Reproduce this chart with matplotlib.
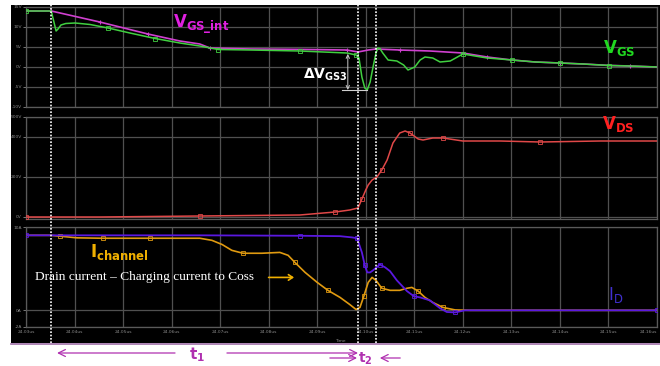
import numpy as np
import matplotlib
matplotlib.use('Agg')
import matplotlib.pyplot as plt
from matplotlib.patches import Rectangle, FancyArrowPatch
from matplotlib.lines import Line2D
import matplotlib.transforms as mtransforms

# ---------------- data (time in us) ----------------
t_vgs_int = [24.0300, 24.0352, 24.0452, 24.0551, 24.0617, 24.0658, 24.0679, 24.0761, 24.0864,
             24.0961, 24.0984, 24.1005, 24.1021, 24.1070, 24.1132, 24.1200, 24.1250, 24.1301,
             24.1349, 24.1400, 24.1448, 24.1501, 24.1544, 24.1600]
v_gs_int = [14.0, 14.0, 11.25, 8.25, 6.5, 5.75, 4.75, 4.5, 4.4,
            4.25, 3.75, 4.25, 4.5, 4.25, 4.0, 3.5, 2.5, 1.75,
            1.25, 1.0, 0.75, 0.4, 0.25, 0.0]

t_vgs = [24.0300, 24.0352, 24.0356, 24.0362, 24.0366, 24.0372, 24.0382, 24.0401, 24.0432, 24.0469,
         24.0514, 24.0566, 24.0617, 24.0658, 24.0696, 24.0761, 24.0864, 24.0961, 24.0980, 24.0986,
         24.0992, 24.0998, 24.1003, 24.1009, 24.1015, 24.1021, 24.1025, 24.1029, 24.1035, 24.1046,
         24.1064, 24.1078, 24.1087, 24.1101, 24.1112, 24.1122, 24.1138, 24.1153, 24.1174, 24.1200,
         24.1225, 24.1250, 24.1301, 24.1349, 24.1400, 24.1448, 24.1501, 24.1544, 24.1600]
v_gs = [14.0, 14.0, 12.0, 9.0, 9.5, 10.5, 10.875, 11.0, 10.625, 9.75,
        8.5, 7.125, 6.0, 5.25, 4.375, 4.25, 4.0, 3.5, 3.0, 2.25,
        -2.5, -5.25, -5.75, -3.75, 0.0, 3.5, 4.75, 4.625, 3.5, 1.75,
        1.5, 0.5, -0.75, 0.0, 1.75, 2.5, 2.25, 1.25, 1.5, 3.25,
        2.75, 2.25, 1.75, 1.25, 1.0, 0.75, 0.375, 0.25, 0.0]

t_vds = [24.0300, 24.0452, 24.0658, 24.0864, 24.0937, 24.0967, 24.0984, 24.0992, 24.1000, 24.1005,
         24.1013, 24.1023, 24.1033, 24.1044, 24.1056, 24.1070, 24.1081, 24.1091, 24.1108, 24.1118,
         24.1138, 24.1159, 24.1200, 24.1239, 24.1277, 24.1359, 24.1483, 24.1600]
v_ds = [0, 0, 5, 10, 25, 35, 45, 90, 135, 160,
        185, 200, 235, 285, 370, 420, 430, 420, 390, 385,
        395, 395, 380, 380, 380, 375, 380, 380]

t_id = [24.0300, 24.0658, 24.0864, 24.0947, 24.0972, 24.0982, 24.0992, 24.0998, 24.1003, 24.1009,
        24.1015, 24.1029, 24.1040, 24.1050, 24.1064, 24.1085, 24.1099, 24.1112, 24.1132, 24.1143,
        24.1153, 24.1167, 24.1184, 24.1204, 24.1600]
i_d = [9.0, 9.0, 8.95, 8.9, 8.75, 8.65, 6.95, 5.4, 4.55, 4.55,
       4.8, 5.5, 5.15, 4.7, 3.6, 2.3, 1.7, 1.55, 1.2, 0.7,
       0.25, -0.2, -0.25, 0.0, 0.0]

t_ich = [24.0300, 24.0352, 24.0370, 24.0405, 24.0459, 24.0555, 24.0658, 24.0683, 24.0704, 24.0724,
         24.0747, 24.0786, 24.0823, 24.0840, 24.0854, 24.0875, 24.0900, 24.0922, 24.0947, 24.0967,
         24.0980, 24.0988, 24.0996, 24.1005, 24.1013, 24.1021, 24.1033, 24.1050, 24.1070, 24.1085,
         24.1095, 24.1108, 24.1122, 24.1138, 24.1159, 24.1184, 24.1215, 24.1600]
i_ch = [9.0, 9.0, 8.9, 8.7, 8.65, 8.65, 8.65, 8.4, 7.9, 7.2,
        6.85, 6.85, 6.95, 6.6, 5.75, 4.55, 3.35, 2.4, 1.55, 0.7,
        0.1, 0.35, 1.7, 3.35, 3.95, 3.6, 2.65, 2.4, 2.4, 2.65,
        2.75, 2.3, 1.55, 0.95, 0.35, 0.05, 0.0, 0.0]

time_ticks = [24.03, 24.04, 24.05, 24.06, 24.07, 24.08, 24.09, 24.10, 24.11, 24.12, 24.13, 24.14, 24.15, 24.16]
time_labels = ['24.03us', '24.04us', '24.05us', '24.06us', '24.07us', '24.08us', '24.09us',
               '24.10us', '24.11us', '24.12us', '24.13us', '24.14us', '24.15us', '24.16us']
vgs_ticks = [-10, -5, 0, 5, 10, 15]
vgs_labels = ['-10V', '-5V', '0V', '5V', '10V', '15V']
vds_ticks = [0, 200, 400, 500]
vds_labels = ['0V', '200V', '400V', '500V']
i_ticks = [-2, 0, 10]
i_labels = ['-2A', '0A', '10A']
marker_times = [24.0352, 24.0984, 24.1021]

# ---------------- figure ----------------
W, H = 660, 366
fig = plt.figure(figsize=(6.6, 3.66), dpi=100, facecolor='white')
def fx(px): return px / W
def fy(py): return 1 - py / H

fig.add_artist(Rectangle((fx(11), fy(343)), fx(660) - fx(11), fy(5) - fy(343),
                         transform=fig.transFigure, facecolor='black', edgecolor='none', zorder=-2))
fig.add_artist(Line2D([fx(11), fx(660)], [fy(343.5), fy(343.5)], transform=fig.transFigure,
                      color='#a070a8', lw=1.2, zorder=-1))

L, R = fx(26), fx(657)
ax1 = fig.add_axes([L, fy(107), R - L, fy(7) - fy(107)])
ax2 = fig.add_axes([L, fy(219), R - L, fy(117) - fy(219)])
ax3 = fig.add_axes([L, fy(327), R - L, fy(227) - fy(327)])

gridc = '#505050'
for ax, yt, yl, lim in [(ax1, vgs_ticks, vgs_labels, (-10, 15)),
                         (ax2, vds_ticks, vds_labels, (-10, 500)),
                         (ax3, i_ticks, i_labels, (-2, 10))]:
    ax.set_facecolor('black')
    ax.set_xlim(24.03, 24.16)
    ax.set_ylim(*lim)
    ax.set_xticks(time_ticks)
    ax.set_yticks(yt)
    ax.set_yticklabels(yl)
    ax.grid(True, color=gridc, lw=0.9)
    for s in ax.spines.values():
        s.set_color('#5a5a5a')
        s.set_linewidth(0.9)
    ax.tick_params(axis='y', colors='#8a8a8a', labelsize=3.2, length=2, width=0.6, pad=1)
    ax.tick_params(axis='x', colors='#5a5a5a', length=0)
    if ax is not ax3:
        ax.set_xticklabels([])
ax3.set_xticklabels(time_labels)
ax3.tick_params(axis='x', labelcolor='#8a8a8a', labelsize=3.2, pad=2)
ax3.get_xticklabels()[-1].set_ha('right')

# ---------------- curves ----------------
ax1.plot(t_vgs_int, v_gs_int, color='#d040d0', lw=1.2, marker='+', ms=3.5, mew=0.8,
         markevery=[1, 2, 3, 6, 9, 13, 16, 19, 22], zorder=3)
ax1.plot(t_vgs, v_gs, color='#40d040', lw=1.1, marker='s', ms=2.5, mfc='none', mew=0.6,
         markevery=[0, 9, 11, 14, 16, 18, 39, 42, 44, 46], zorder=4)
ax2.plot(t_vds, v_ds, color='#e04848', lw=1.1, marker='s', ms=2.5, mfc='none', mew=0.6,
         markevery=[0, 2, 4, 7, 12, 17, 21, 25], zorder=3)
ax3.plot(t_ich, i_ch, color='#e09a10', lw=1.2, marker='s', ms=2.5, mfc='none', mew=0.6,
         markevery=[2, 4, 5, 10, 14, 17, 22, 26, 31, 34], zorder=3)
ax3.plot(t_id, i_d, color='#5a18e0', lw=1.3, marker='s', ms=2.5, mfc='none', mew=0.6,
         markevery=[0, 2, 5, 7, 11, 16, 22, 24], zorder=4)

# dotted vertical cursors across the whole black area
blend = mtransforms.blended_transform_factory(ax1.transData, fig.transFigure)
for t in marker_times:
    fig.add_artist(Line2D([t, t], [fy(343), fy(5)], transform=blend, color='white', lw=1.2,
                          ls=(0, (1, 1)), zorder=5))

# ---------------- labels ----------------
ax1.text(24.0603, 10.6, r'$\mathbf{V}_{\mathbf{GS\_int}}$', color='#e020e0', fontsize=12,
         va='center', ha='left', zorder=6)
ax1.text(24.1489, 4.8, r'$\mathbf{V}_{\mathbf{GS}}$', color='#20d820', fontsize=12,
         va='center', ha='left', zorder=6)
ax2.text(24.1487, 465, r'$\mathbf{V}_{\mathbf{DS}}$', color='#ff2020', fontsize=12,
         va='center', ha='left', zorder=6)
ax3.text(24.0432, 7.0, r'$\mathbf{I}_{\mathbf{channel}}$', color='#f0b000', fontsize=12,
         va='center', ha='left', zorder=6)
ax3.text(24.1500, 1.8, r'$\mathsf{I}_{\mathsf{D}}$', color='#4030d0', fontsize=12,
         va='center', ha='left', zorder=6)
ax1.text(24.0870, -2.0, r'$\mathbf{\Delta V}_{\mathbf{GS3}}$', color='white', fontsize=10,
         va='center', ha='left', zorder=6)
ax3.text(24.0319, 4.05, 'Drain current \u2013 Charging current to Coss', color='white',
         fontsize=9.6, family='Liberation Serif', va='center', ha='left', zorder=6)
ax3.add_patch(FancyArrowPatch((24.0794, 3.95), (24.0858, 3.95), arrowstyle='->,head_length=3,head_width=2',
                              color='#f0b000', lw=1.2, zorder=6))

# delta VGS3 dimension
ax1.add_patch(FancyArrowPatch((24.0963, 3.3), (24.0963, -5.75), arrowstyle='<->,head_length=2.5,head_width=1.2',
                              color='#c8c8c8', lw=0.7, zorder=6, shrinkA=0, shrinkB=0))
ax1.plot([24.0952, 24.1003], [-5.75, -5.75], color='#d0d0d0', lw=0.8, zorder=6)

# Time axis title
blend3 = mtransforms.blended_transform_factory(ax3.transData, fig.transFigure)
fig.text(24.0947, fy(340.5), 'Time', transform=blend3, color='#8a8a8a', fontsize=3.2,
         ha='center', va='center')

# t1 / t2 arrows below
pc = '#b030b0'
def arr(x0, x1, y):
    fig.add_artist(FancyArrowPatch((x0, fy(y)), (x1, fy(y)), transform=blend3,
                                   arrowstyle='->,head_length=5,head_width=2.5', color=pc, lw=0.9,
                                   shrinkA=0, shrinkB=0))
arr(24.0607, 24.0364, 353)
arr(24.0714, 24.0984, 353)
arr(24.0926, 24.0982, 358)
arr(24.1071, 24.1029, 358)
fig.text(24.0652, fy(355), r'$\mathbf{t}_{\mathbf{1}}$', transform=blend3, color=pc, fontsize=11,
         ha='center', va='center')
fig.text(24.1000, fy(358.5), r'$\mathbf{t}_{\mathbf{2}}$', transform=blend3, color=pc, fontsize=10,
         ha='center', va='center')

fig.savefig('out.png', dpi=100, facecolor='white')
